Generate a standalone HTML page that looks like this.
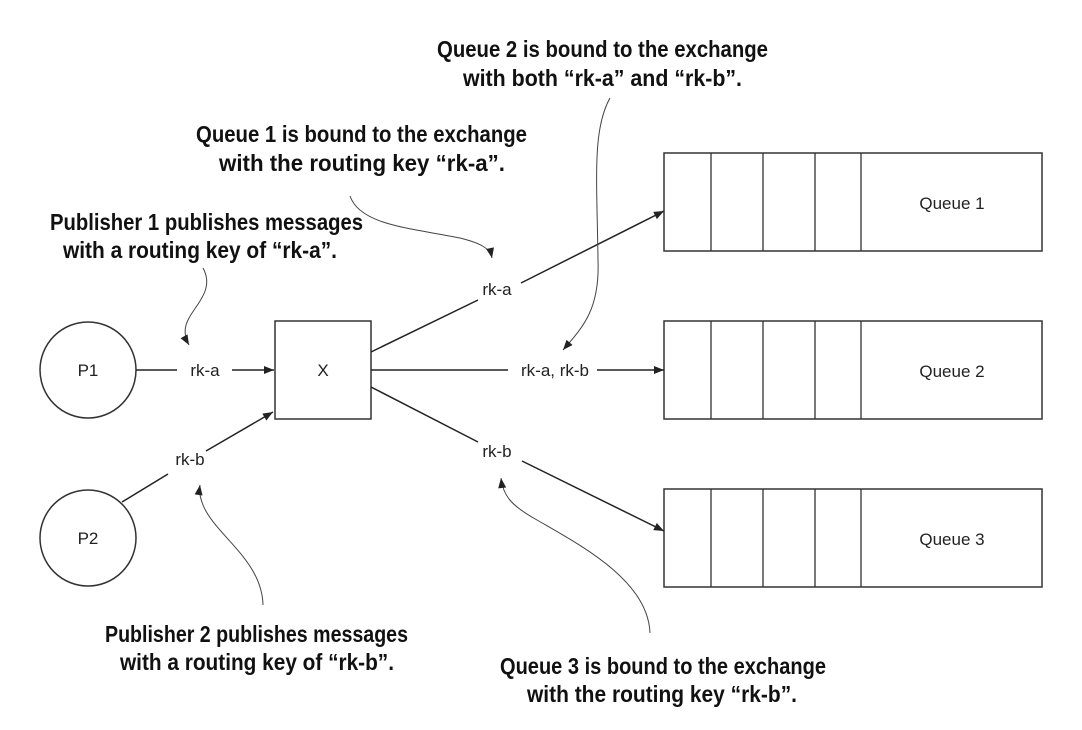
<!DOCTYPE html>
<html><head><meta charset="utf-8"><style>
html,body{margin:0;padding:0;background:#fff;}
svg{display:block;}
.a{font-family:"Liberation Sans",sans-serif;font-weight:bold;font-size:23px;fill:#111;}
.l{font-family:"Liberation Sans",sans-serif;font-size:17px;fill:#222;}
</style></head><body>
<svg width="1082" height="730" viewBox="0 0 1082 730" xmlns="http://www.w3.org/2000/svg">
<defs>
<marker id="ah" viewBox="0 0 10 10" refX="10" refY="5" markerWidth="14" markerHeight="10" markerUnits="userSpaceOnUse" orient="auto"><path d="M0,1 L10,5 L0,9 z" fill="#222"/></marker>
</defs>
<g class="a">
<text x="437" y="57" textLength="331" lengthAdjust="spacingAndGlyphs">Queue 2 is bound to the exchange</text>
<text x="463" y="86" textLength="279" lengthAdjust="spacingAndGlyphs">with both “rk-a” and “rk-b”.</text>
<text x="196" y="142" textLength="331" lengthAdjust="spacingAndGlyphs">Queue 1 is bound to the exchange</text>
<text x="219" y="171" textLength="286" lengthAdjust="spacingAndGlyphs">with the routing key “rk-a”.</text>
<text x="50" y="230" textLength="313" lengthAdjust="spacingAndGlyphs">Publisher 1 publishes messages</text>
<text x="63" y="258" textLength="274" lengthAdjust="spacingAndGlyphs">with a routing key of “rk-a”.</text>
<text x="105" y="642" textLength="303" lengthAdjust="spacingAndGlyphs">Publisher 2 publishes messages</text>
<text x="120" y="670" textLength="274" lengthAdjust="spacingAndGlyphs">with a routing key of “rk-b”.</text>
<text x="500" y="674" textLength="326" lengthAdjust="spacingAndGlyphs">Queue 3 is bound to the exchange</text>
<text x="527" y="702" textLength="270" lengthAdjust="spacingAndGlyphs">with the routing key “rk-b”.</text>
</g>
<g fill="#fff" stroke="#333" stroke-width="1.5">
<circle cx="88" cy="370" r="48"/>
<circle cx="88" cy="538" r="48"/>
<rect x="275" y="321" width="96" height="98"/>
<rect x="664" y="153" width="378" height="98"/>
<rect x="664" y="321" width="378" height="98"/>
<rect x="664" y="489" width="378" height="98"/>
</g>
<g stroke="#333" stroke-width="1.3">
<path d="M711,153V251M763,153V251M815,153V251M861,153V251"/>
<path d="M711,321V419M763,321V419M815,321V419M861,321V419"/>
<path d="M711,489V587M763,489V587M815,489V587M861,489V587"/>
</g>
<g class="l" text-anchor="middle">
<text x="88" y="376">P1</text>
<text x="88" y="544">P2</text>
<text x="323" y="376">X</text>
<text x="952" y="209">Queue 1</text>
<text x="952" y="377">Queue 2</text>
<text x="952" y="545">Queue 3</text>
<text x="205" y="376">rk-a</text>
<text x="190" y="465">rk-b</text>
<text x="497" y="295">rk-a</text>
<text x="555" y="376">rk-a, rk-b</text>
<text x="497" y="457">rk-b</text>
</g>
<g stroke="#222" stroke-width="1.5" fill="none">
<line x1="136" y1="370" x2="177" y2="370"/>
<line x1="232" y1="370" x2="274" y2="370" marker-end="url(#ah)"/>
<line x1="122" y1="502" x2="168" y2="474"/>
<line x1="206" y1="451" x2="273" y2="412" marker-end="url(#ah)"/>
<line x1="371" y1="352" x2="478" y2="300"/>
<line x1="521" y1="283" x2="664" y2="211" marker-end="url(#ah)"/>
<line x1="371" y1="370" x2="508" y2="370"/>
<line x1="597" y1="370" x2="664" y2="370" marker-end="url(#ah)"/>
<line x1="371" y1="387" x2="478" y2="442"/>
<line x1="522" y1="461" x2="664" y2="531" marker-end="url(#ah)"/>
</g>
<g stroke="#444" stroke-width="1" fill="none">
<path d="M203,268 C215,290 195,305 188,320 C183,330 185,338 189,345" marker-end="url(#ah)"/>
<path d="M350,196 C360,225 410,228 460,238 C480,243 490,248 492,258" marker-end="url(#ah)"/>
<path d="M610,98 C592,130 597,180 598,260 C600,310 582,328 563,350" marker-end="url(#ah)"/>
<path d="M263,605 C262,560 215,535 203,505 C200,497 199,492 200,485" marker-end="url(#ah)"/>
<path d="M650,633 C648,580 580,545 537,520 C510,505 503,495 501,478" marker-end="url(#ah)"/>
</g>
</svg>
</body></html>
